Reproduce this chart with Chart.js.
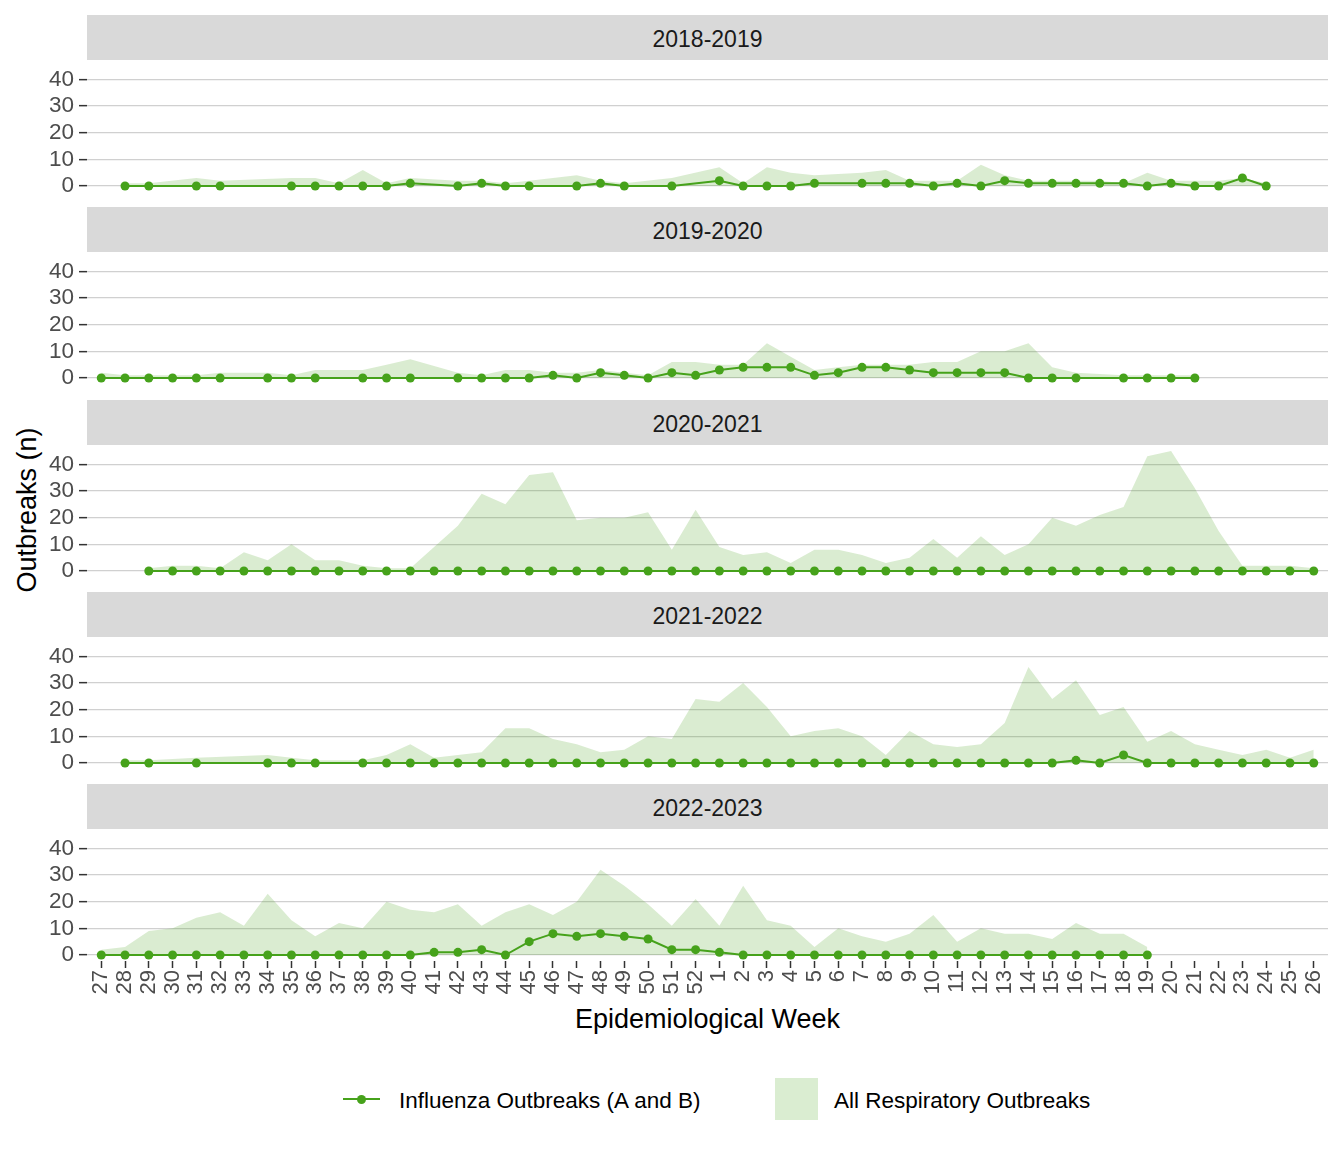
<!DOCTYPE html>
<html>
<head>
<meta charset="utf-8">
<script src="https://cdn.jsdelivr.net/npm/chart.js@4.4.0/dist/chart.umd.min.js"></script>
<style>
  body { margin: 0; background: #fff; font-family: 'Liberation Sans', Arial, sans-serif; }
  #wrap { position: relative; width: 1344px; height: 1152px; overflow: hidden; }
  .strip { position: absolute; left: 87px; width: 1241px; height: 45px; background: #d9d9d9;
           color: #1a1a1a; font-size: 23px; line-height: 48px; text-align: center; overflow: hidden; }
  canvas { position: absolute; left: 0; }
  .title { position: absolute; font-size: 27px; color: #000; text-align: center; line-height: 34px; white-space: nowrap; }
  .leg { position: absolute; font-size: 22.5px; color: #000; line-height: 40px; top: 1081px; white-space: nowrap; }
</style>
</head>
<body>
<div id="wrap">
  <div class="title" style="left:87px; width:1241px; top:1002px;">Epidemiological Week</div>
  <div class="title" style="left:-173px; width:400px; top:493px; transform:rotate(-90deg);">Outbreaks (n)</div>

  <div style="position:absolute; left:343px; top:1098px; width:37px; height:2px; background:#46a21b;"></div>
  <div style="position:absolute; left:357px; top:1095px; width:9px; height:9px; border-radius:50%; background:#46a21b;"></div>
  <div class="leg" style="left:399px;">Influenza Outbreaks (A and B)</div>
  <div style="position:absolute; left:775px; top:1078px; width:43px; height:42px; background:#daedd1;"></div>
  <div class="leg" style="left:834px;">All Respiratory Outbreaks</div>
</div>
<script>
const N = null;

const weeks = ['27','28','29','30','31','32','33','34','35','36','37','38','39','40','41','42','43','44','45','46','47','48','49','50','51','52',
               '1','2','3','4','5','6','7','8','9','10','11','12','13','14','15','16','17','18','19','20','21','22','23','24','25','26'];

const seasons = ['2018-2019', '2019-2020', '2020-2021', '2021-2022', '2022-2023'];

const yTicks = [0, 10, 20, 30, 40];

// weeks 27..52 then 1..26, null = no report that week
const flu1819  = [N,0,0,N,0,0,N,N,0,0,0,0,0,1,N,0,1,0,0,N,0,1,0,N,0,N,
                  2,0,0,0,1,N,1,1,1,0,1,0,2,1,1,1,1,1,0,1,0,0,3,0,N,N];
const resp1819 = [N,1,1,N,3,2,N,N,3,3,1,6,1,3,N,2,2,1,2,N,4,2,1,N,3,N,
                  7,1,7,5,4,N,5,6,2,2,2,8,4,2,2,2,2,1,5,2,2,2,3,1,N,N];

const flu1920  = [0,0,0,0,0,0,N,0,0,0,N,0,0,0,N,0,0,0,0,1,0,2,1,0,2,1,
                  3,4,4,4,1,2,4,4,3,2,2,2,2,0,0,0,N,0,0,0,0,N,N,N,N,N];
const resp1920 = [2,1,1,1,1,2,N,2,1,3,N,3,5,7,N,2,1,3,3,2,2,3,2,1,6,6,
                  5,5,13,8,3,4,5,5,5,6,6,10,10,13,4,2,N,1,1,1,1,N,N,N,N,N];

const flu2021  = [N,N,0,0,0,0,0,0,0,0,0,0,0,0,0,0,0,0,0,0,0,0,0,0,0,0,
                  0,0,0,0,0,0,0,0,0,0,0,0,0,0,0,0,0,0,0,0,0,0,0,0,0,0];
const resp2021 = [N,N,1,2,2,1,7,4,10,4,4,2,1,1,9,17,29,25,36,37,19,20,20,22,8,23,
                  9,6,7,3,8,8,6,3,5,12,5,13,6,10,20,17,21,24,43,45,31,15,2,2,2,1];

const flu2122  = [N,0,0,N,0,N,N,0,0,0,N,0,0,0,0,0,0,0,0,0,0,0,0,0,0,0,
                  0,0,0,0,0,0,0,0,0,0,0,0,0,0,0,1,0,3,0,0,0,0,0,0,0,0];
const resp2122 = [N,1,1,N,2,N,N,3,2,1,N,1,3,7,2,3,4,13,13,9,7,4,5,10,9,24,
                  23,30,21,10,12,13,10,3,12,7,6,7,15,36,24,31,18,21,8,12,7,5,3,5,2,5];

const flu2223  = [0,0,0,0,0,0,0,0,0,0,0,0,0,0,1,1,2,0,5,8,7,8,7,6,2,2,
                  1,0,0,0,0,0,0,0,0,0,0,0,0,0,0,0,0,0,0,N,N,N,N,N,N,N];
const resp2223 = [2,3,9,10,14,16,11,23,13,7,12,10,20,17,16,19,11,16,19,15,20,32,26,19,11,21,
                  11,26,13,11,3,10,7,5,8,15,5,10,8,8,6,12,8,8,3,N,N,N,N,N,N,N];

const fluSeries  = [flu1819, flu1920, flu2021, flu2122, flu2223];
const respSeries = [resp1819, resp1920, resp2021, resp2122, resp2223];

const green = '#46a21b';
const areaFill = 'rgba(70,162,27,0.2)';

Chart.defaults.font.family = "'Liberation Sans', Arial, sans-serif";

const wrap = document.getElementById('wrap');

seasons.forEach((season, k) => {
  const last = k === seasons.length - 1;
  const stripTop = Math.round(15 + k * 192.3);

  const strip = document.createElement('div');
  strip.className = 'strip';
  strip.style.top = stripTop + 'px';
  strip.textContent = season;
  wrap.appendChild(strip);

  const cv = document.createElement('canvas');
  cv.width = 1344;
  cv.height = last ? 197 : 172;
  cv.style.top = (stripTop + 25) + 'px';
  wrap.appendChild(cv);

  new Chart(cv.getContext('2d'), {
    type: 'line',
    data: {
      datasets: [{
        label: 'Influenza Outbreaks (A and B)',
        data: fluSeries[k].map((v, i) => ({ x: i, y: v })),
        borderColor: green,
        backgroundColor: green,
        borderWidth: 2,
        pointRadius: 4.5,
        pointBorderWidth: 0,
        pointBackgroundColor: green,
        spanGaps: true,
        fill: false,
        order: 1
      }, {
        label: 'All Respiratory Outbreaks',
        data: respSeries[k].map((v, i) => ({ x: i, y: v })),
        borderWidth: 0,
        borderColor: 'rgba(0,0,0,0)',
        backgroundColor: areaFill,
        pointRadius: 0,
        spanGaps: true,
        fill: 'origin',
        order: 2
      }]
    },
    options: {
      responsive: false,
      animation: false,
      layout: { padding: { top: 20, bottom: last ? 0 : 20, left: 0, right: 16 } },
      plugins: {
        legend: { display: false },
        tooltip: { enabled: false }
      },
      scales: {
        x: {
          type: 'linear',
          min: -0.6,
          max: 51.6,
          display: last,
          afterBuildTicks: ax => { ax.ticks = weeks.map((w, i) => ({ value: i })); },
          afterFit: ax => { ax.height = last ? 45 : 0; },
          ticks: {
            autoSkip: false,
            minRotation: 90,
            maxRotation: 90,
            color: '#4d4d4d',
            font: { size: 22 },
            padding: 2,
            callback: (v, i) => weeks[i]
          },
          grid: { drawOnChartArea: false, drawTicks: true, tickLength: 7, tickColor: '#333', tickWidth: 1.5 },
          border: { display: false }
        },
        y: {
          min: -2.25,
          max: 47.25,
          afterBuildTicks: ax => { ax.ticks = yTicks.map(v => ({ value: v })); },
          afterFit: ax => { ax.width = 87; },
          ticks: { color: '#4d4d4d', font: { size: 22.5 }, padding: 5 },
          grid: { color: '#d0d0d0', lineWidth: 1.3, tickColor: '#333', tickLength: 8, tickWidth: 1.5 },
          border: { display: false }
        }
      }
    }
  });
});
</script>
</body>
</html>
